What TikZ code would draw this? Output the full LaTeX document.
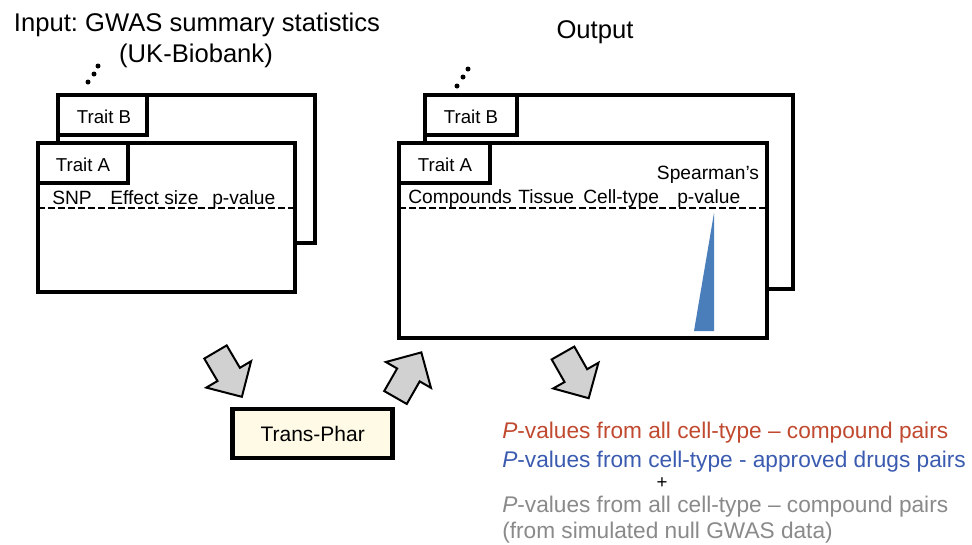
\documentclass[tikz,border=0pt]{standalone}
\usepackage{fontspec}
\setmainfont{Liberation Sans}
\usetikzlibrary{calc}
\frenchspacing

\definecolor{allred}{HTML}{C0492F}
\definecolor{drugblue}{HTML}{3B5BB0}
\definecolor{nullgray}{HTML}{8A8A8A}
\definecolor{spearblue}{HTML}{4A7EBB}
\definecolor{toolcream}{HTML}{FFFAE6}

\begin{document}
\begin{tikzpicture}[x=0.75pt, y=-0.75pt,
  panel/.style={draw, fill=white, line width=3.6pt},
  tabtext/.style={font=\fontsize{14}{16}\selectfont, anchor=base, inner sep=0pt},
  coltext/.style={font=\fontsize{14.4}{17}\selectfont, anchor=base west, inner sep=0pt},
  headtext/.style={font=\fontsize{19.2}{22}\selectfont, anchor=base, inner sep=0pt},
  restext/.style={font=\fontsize{17}{20}\selectfont, anchor=base west, inner sep=0pt},
  rowline/.style={dash pattern=on 5pt off 2.5pt, line width=1.1pt},
  toolbox/.style={draw, fill=toolcream, line width=3.6pt, minimum width=120pt,
    minimum height=36.75pt, font=\fontsize{15.75}{18}\selectfont},
  fatarrow/.pic={
    \draw[fill=black!18, line width=1.5pt, line join=miter]
      (0,-13) -- (26,-13) -- (26,-26) -- (52,0) -- (26,26) -- (26,13) -- (0,13) -- cycle;
  },
]
  \useasboundingbox[fill=white] (0,0) rectangle (972,544);

  % input side
  \node[headtext] (intitle) at (197,31) {Input: GWAS summary statistics};
  \node[headtext] (inbank) at (196,62) {(UK-Biobank)};
  \foreach \p in {(98,66),(94,74),(88,82)}
    \fill \p circle (2.5);
  \draw[panel] (58,95) rectangle (315,243);
  \draw[panel] (58,95) rectangle (147,135);
  \node[tabtext] (intraitB) at (104,123) {Trait B};
  \draw[panel] (38,143) rectangle (295,292);
  \draw[panel] (38,143) rectangle (128,183);
  \node[tabtext] (intraitA) at (83,171) {Trait A};
  \node[coltext] (snp) at (52,204) {SNP};
  \node[coltext] (effect) at (110,204) {Effect size};
  \node[coltext] (inp) at (212,204) {p-value};
  \draw[rowline] (38,208) -- (295,208);

  % output side
  \node[headtext] (outtitle) at (595,38) {Output};
  \foreach \p in {(468,69),(463,77),(457,86)}
    \fill \p circle (2.5);
  \draw[panel] (425,95) rectangle (793,289);
  \draw[panel] (425,95) rectangle (517,135);
  \node[tabtext] (outtraitB) at (471,123) {Trait B};
  \draw[panel] (399,143) rectangle (767,338);
  \draw[panel] (399,143) rectangle (490,183);
  \node[tabtext] (outtraitA) at (445,171) {Trait A};
  \node[coltext] (compounds) at (408,203) {Compounds};
  \node[coltext] (tissue) at (518,203) {Tissue};
  \node[coltext] (celltype) at (583,203) {Cell-type};
  \node[coltext] (outp) at (677,203) {p-value};
  \node[coltext, anchor=base] (spearman) at (708,179) {Spearman’s};
  \draw[rowline] (399,208) -- (767,208);
  \fill[spearblue] (714,213) -- (714,331) -- (694,331) -- cycle;

  % method and flow arrows
  \node[toolbox] (transphar) at (312.7,433.5) {Trans-Phar};
  \pic[rotate=-59.5] (toin) at (215.5,352) {fatarrow};
  \pic[rotate=60.2] (toout) at (395.5,397.5) {fatarrow};
  \pic[rotate=-60.4] (tores) at (563,353) {fatarrow};

  % result lines
  \node[restext, text=allred] (allpairs) at (502,438)
    {\textit{P}-values from all cell-type – compound pairs};
  \node[restext, text=drugblue] (drugpairs) at (502,467)
    {\textit{P}-values from cell-type - approved drugs pairs};
  \node[font=\fontsize{14}{16}\selectfont, inner sep=0pt] (plus) at (662,483) {+};
  \node[restext, text=nullgray] (nullpairs) at (502,512)
    {\textit{P}-values from all cell-type – compound pairs};
  \node[restext, text=nullgray] (nulldata) at (502,538)
    {(from simulated null GWAS data)};
\end{tikzpicture}
\end{document}
